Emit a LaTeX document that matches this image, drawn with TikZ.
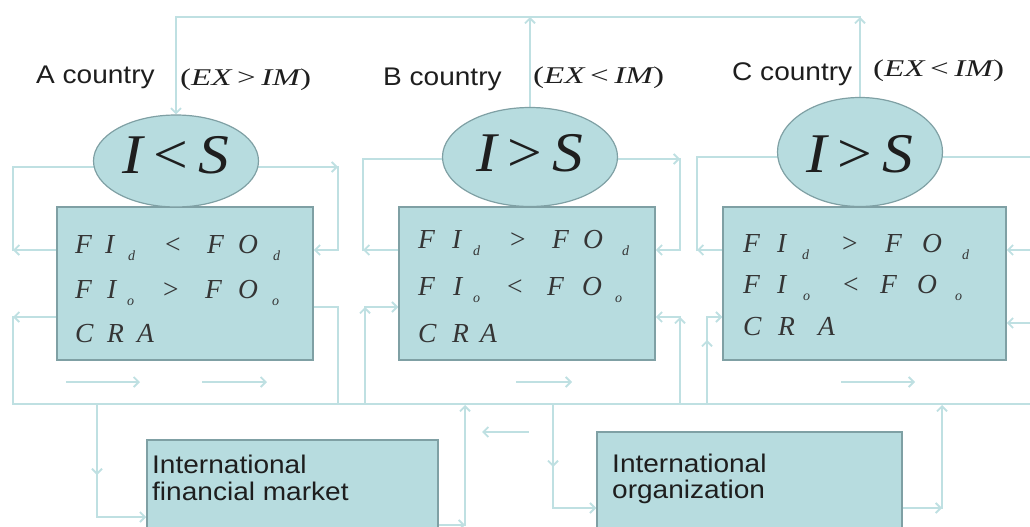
\documentclass[tikz,border=0pt]{standalone}
\usepackage{graphicx}
\usepackage{fontspec}
\setmainfont{Liberation Serif}
\newfontfamily\lsans{Liberation Sans}
\usetikzlibrary{shapes.geometric,arrows.meta,backgrounds}
\definecolor{fillc}{HTML}{B7DCDF}
\definecolor{edgec}{HTML}{7FA0A4}
\definecolor{linec}{HTML}{BFE0E2}
\definecolor{txtc}{HTML}{1E1E1E}
\newcommand\subt[1]{\raisebox{-7pt}{\fontsize{14}{14}\selectfont #1}}
\newcommand\fline[8]{\rlap{F}\rlap{\hspace{#1}I}\rlap{\hspace{#2}\subt{#7}}\rlap{\hspace{#3}\upshape #8}\rlap{\hspace{#4}F}\rlap{\hspace{#5}O}\hspace{#6}\subt{#7}}
\newcommand\craline[2]{\rlap{C}\rlap{\hspace{#1}R}\hspace{#2}A}
\newcommand\elltxt[2]{\raisebox{#2}[\height][\depth]{\scalebox{1.1}[1]{\fontsize{56}{56}\selectfont\itshape I\,{\upshape #1}\,S}}}
\newcommand\partxt[1]{\scalebox{1.38}[1]{{\upshape(}EX\,{\upshape #1}\,IM{\upshape)}}}
\newcommand\sx[1]{\scalebox{1.1}[1]{#1}}
\begin{document}
\begin{tikzpicture}[x=1pt,y=-1pt,
 conn/.style={draw=linec,line width=1.8pt,line cap=rect},
 arr/.style={conn,-{Straight Barb[length=5pt,width=10pt]}},
 ell/.style={ellipse,draw=edgec,fill=fillc,line width=1.2pt,inner sep=0pt,text=txtc},
 cbox/.style={rectangle,draw=edgec,fill=fillc,line width=1.5pt,inner sep=0pt},
 lbl/.style={inner sep=0pt,anchor=base west,text=txtc,font=\lsans\fontsize{25.5}{25.5}\selectfont},
 mth/.style={inner sep=0pt,anchor=base west,text=txtc,font=\itshape\fontsize{24}{24}\selectfont},
 fl/.style={inner sep=0pt,anchor=base west,text=txtc!90,font=\itshape\fontsize{27.5}{27.5}\selectfont},
]
\clip (0,0) rectangle (1030,527);
% boxes
\node[cbox,minimum width=256pt,minimum height=153pt] (bA) at (185,283.5) {};
\node[cbox,minimum width=256pt,minimum height=153pt] (bB) at (527,283.5) {};
\node[cbox,minimum width=283pt,minimum height=153pt] (bC) at (864.5,283.5) {};
\node[cbox,minimum width=291pt,minimum height=110pt] (ifm) at (292.5,495) {};
\node[cbox,minimum width=305pt,minimum height=118pt] (io) at (749.5,491) {};
% ellipses
\node[ell,minimum width=165pt,minimum height=92pt] (eA) at (176,161) {\elltxt{<}{6pt}};
\node[ell,minimum width=175pt,minimum height=99pt] (eB) at (530,157) {\elltxt{>}{4pt}};
\node[ell,minimum width=165pt,minimum height=109pt] (eC) at (860,152) {\elltxt{>}{-2pt}};
% labels
\node[lbl] (lA) at (36,83) {\sx{A country}};
\node[lbl] (lB) at (383,85) {\sx{B country}};
\node[lbl] (lC) at (732,80) {\sx{C country}};
\node[mth] (mA) at (180,85) {\partxt{>}};
\node[mth] (mB) at (533,83) {\partxt{<}};
\node[mth] (mC) at (873,77) {\partxt{<}};
% box texts
\node[fl] (a1) at (75,253) {\fline{30pt}{53pt}{90pt}{132pt}{163pt}{198pt}{d}{<}};
\node[fl] (a2) at (75,298) {\fline{32pt}{52pt}{88pt}{130pt}{163pt}{197pt}{o}{>}};
\node[fl] (a3) at (75,342) {\craline{32pt}{62pt}};
\node[fl] (b1) at (418,248) {\fline{34pt}{55pt}{92pt}{134pt}{165pt}{204pt}{d}{>}};
\node[fl] (b2) at (418,295) {\fline{35pt}{55pt}{89pt}{129pt}{164pt}{197pt}{o}{<}};
\node[fl] (b3) at (418,342) {\craline{34pt}{62pt}};
\node[fl] (c1) at (743,252) {\fline{34pt}{59pt}{99pt}{142pt}{179pt}{219pt}{d}{>}};
\node[fl] (c2) at (743,293) {\fline{34pt}{60pt}{100pt}{137pt}{174pt}{212pt}{o}{<}};
\node[fl] (c3) at (743,335) {\craline{35pt}{75pt}};
\node[lbl] (f1) at (152,473) {\sx{International}};
\node[lbl] (f2) at (152,500) {\sx{financial market}};
\node[lbl] (o1) at (612,472) {\sx{International}};
\node[lbl] (o2) at (612,498) {\sx{organization}};
% level coordinates
\coordinate (top) at (0,17);
\coordinate (yTA) at (0,167);
\coordinate (yTB) at (0,159);
\coordinate (yTC) at (0,157);
\coordinate (yU) at (0,250);
\coordinate (yLA) at (0,317);
\coordinate (yRA) at (0,307);
\coordinate (yLB) at (0,307);
\coordinate (yRB) at (0,317);
\coordinate (yLC) at (0,317);
\coordinate (yRC) at (0,323);
\coordinate (y517) at (0,517);
\coordinate (y525) at (0,525);
\coordinate (y508) at (0,508);
\begin{pgfonlayer}{background}
% top loop
\draw[arr] (eB.north) -- (eB.north|-top);
\draw[arr] (eC.north) -- (eC.north|-top);
\draw[arr] (eC.north|-top) -- (eA.north|-top) -- (eA.north);
% A upper
\draw[arr] (bA.west|-yU) -- (13,250);
\draw[conn] (13,250) -- (13,167) -- (eA.center|-yTA);
\draw[arr] (eA.center|-yTA) -- (338,167);
\draw[arr] (338,167) -- (338,250) -- (bA.east|-yU);
% A lower
\draw[arr] (bA.west|-yLA) -- (13,317);
\draw[conn] (13,317) -- (13,404) -- (1040,404);
\draw[conn] (bA.east|-yRA) -- (338,307) -- (338,404);
% B upper
\draw[arr] (bB.west|-yU) -- (363,250);
\draw[conn] (363,250) -- (363,159) -- (eB.center|-yTB);
\draw[arr] (eB.center|-yTB) -- (680,159);
\draw[arr] (680,159) -- (680,250) -- (bB.east|-yU);
% B lower
\draw[arr] (365,404) -- (365,307);
\draw[arr] (365,307) -- (bB.west|-yLB);
\draw[arr] (680,404) -- (680,317);
\draw[arr] (680,317) -- (bB.east|-yRB);
% C upper
\draw[arr] (bC.west|-yU) -- (697,250);
\draw[conn] (697,250) -- (697,157) -- (eC.center|-yTC);
\draw[conn] (eC.center|-yTC) -- (1040,157);
\draw[arr] (1040,250) -- (bC.east|-yU);
% C lower
\draw[arr] (707,404) -- (707,340);
\draw[arr] (707,340) -- (707,317) -- (bC.west|-yLC);
\draw[arr] (1040,323) -- (bC.east|-yRC);
% bottom part
\draw[arr] (97,404) -- (97,475);
\draw[arr] (97,475) -- (97,517) -- (ifm.west|-y517);
\draw[arr] (ifm.east|-y525) -- (465,525);
\draw[arr] (465,525) -- (465,405);
\draw[arr] (528,432) -- (482,432);
\draw[arr] (553,404) -- (553,467);
\draw[arr] (553,467) -- (553,508) -- (io.west|-y508);
\draw[arr] (io.east|-y508) -- (942,508);
\draw[arr] (942,508) -- (942,405);
% flow arrows
\draw[arr] (67,382) -- (140,382);
\draw[arr] (203,382) -- (267,382);
\draw[arr] (517,382) -- (572,382);
\draw[arr] (842,382) -- (915,382);
\end{pgfonlayer}
\end{tikzpicture}
\end{document}
